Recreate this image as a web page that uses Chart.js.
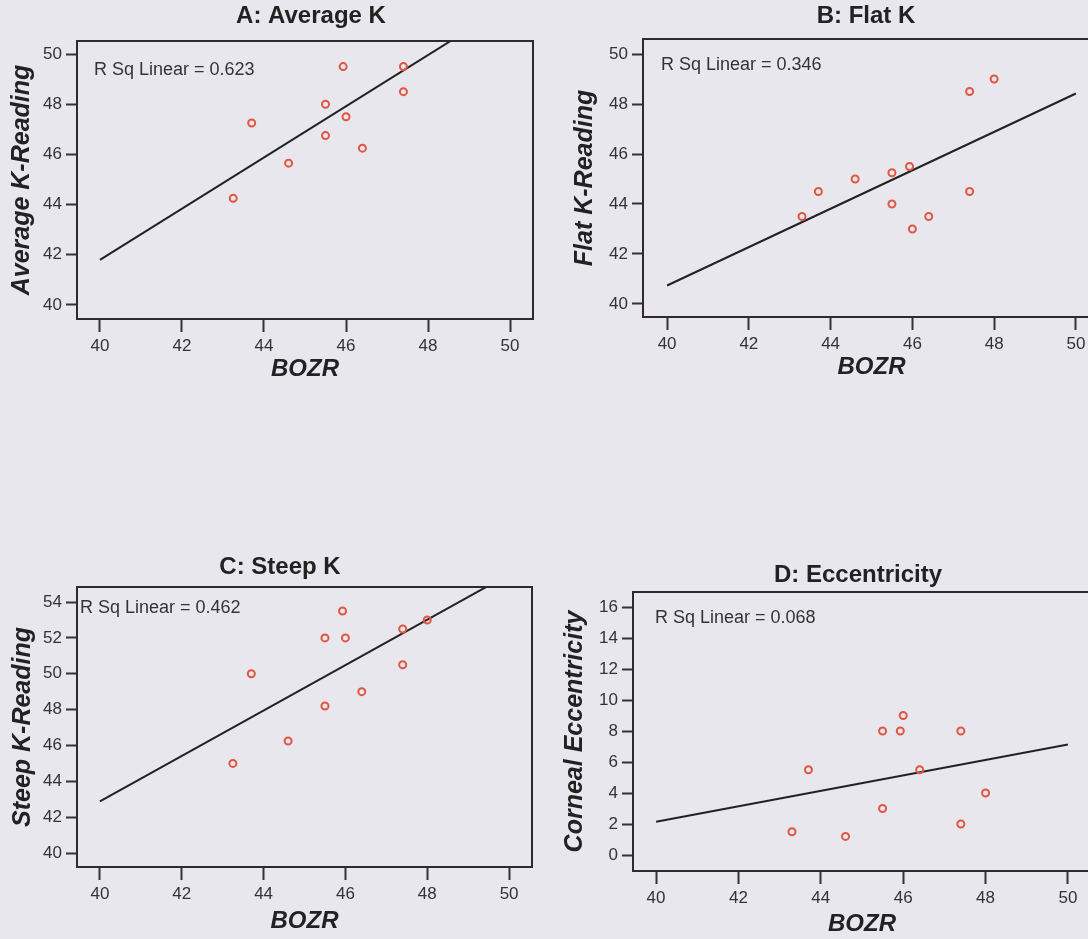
<!DOCTYPE html>
<html>
<head>
<meta charset="utf-8">
<script src="https://cdn.jsdelivr.net/npm/chart.js@4.4.0/dist/chart.umd.min.js"></script>
<style>
  html, body { margin: 0; padding: 0; background: #e8e7ee; width: 1088px; height: 939px; overflow: hidden; position: relative; }
  canvas { position: absolute; }
</style>
</head>
<body>
<canvas id="chartA" width="545" height="390" style="left:0px;top:0px"></canvas>
<canvas id="chartB" width="561" height="390" style="left:545px;top:0px"></canvas>
<canvas id="chartC" width="545" height="394" style="left:0px;top:545px"></canvas>
<canvas id="chartD" width="552" height="394" style="left:545px;top:545px"></canvas>
<script>
var bozrTicks = [40, 42, 44, 46, 48, 50];
var fitX = [40, 50];

// A: Average K
var avgBozr = [43.25, 43.7, 44.6, 45.5, 45.5, 45.93, 46.0, 46.4, 47.4, 47.4];
var avgK    = [44.25, 47.25, 45.65, 48.0, 46.75, 49.5, 47.5, 46.25, 49.5, 48.5];
var avgFit  = [41.8, 52.0];
var avgTicks = [40, 42, 44, 46, 48, 50];

// B: Flat K
var flatBozr = [43.3, 43.7, 44.6, 45.5, 45.5, 45.93, 46.0, 46.4, 47.4, 47.4, 48.0];
var flatK    = [43.5, 44.5, 45.0, 45.25, 44.0, 45.5, 43.0, 43.5, 48.5, 44.5, 49.0];
var flatFit  = [40.74, 48.42];
var flatTicks = [40, 42, 44, 46, 48, 50];

// C: Steep K
var steepBozr = [43.25, 43.7, 44.6, 45.5, 45.5, 45.93, 46.0, 46.4, 47.4, 47.4, 48.0];
var steepK    = [45.0, 50.0, 46.25, 52.0, 48.2, 53.5, 52.0, 49.0, 52.5, 50.5, 53.0];
var steepFit  = [42.88, 55.55];
var steepTicks = [40, 42, 44, 46, 48, 50, 52, 54];

// D: Eccentricity
var eccBozr = [43.3, 43.7, 44.6, 45.5, 45.5, 45.93, 46.0, 46.4, 47.4, 47.4, 48.0];
var eccVal  = [1.5, 5.5, 1.2, 8.0, 3.0, 8.0, 9.0, 5.5, 8.0, 2.0, 4.0];
var eccFit  = [2.15, 7.13];
var eccTicks = [0, 2, 4, 6, 8, 10, 12, 14, 16];

var framePlugin = {
  id: 'frame',
  afterDraw: function(chart, args, o) {
    var a = chart.chartArea, ctx = chart.ctx;
    ctx.save();
    ctx.strokeStyle = '#2e2a2e';
    ctx.lineWidth = 2;
    ctx.strokeRect(a.left, a.top, a.right - a.left, a.bottom - a.top);
    ctx.fillStyle = '#222';
    ctx.font = 'bold 24px "Liberation Sans", Arial, sans-serif';
    ctx.textAlign = 'center';
    ctx.textBaseline = 'middle';
    ctx.fillText(o.title, o.titleX, o.titleY);
    ctx.fillStyle = '#333';
    ctx.font = '18px "Liberation Sans", Arial, sans-serif';
    ctx.textAlign = 'left';
    ctx.fillText(o.rsq, a.left + o.rsqDx, a.top + o.rsqDy);
    ctx.restore();
  }
};

function toPoints(xs, ys) {
  var pts = [];
  for (var i = 0; i < xs.length; i++) {
    pts.push({x: xs[i], y: ys[i]});
  }
  return pts;
}

function makeChart(id, p) {
  var ctx = document.getElementById(id);
  return new Chart(ctx, {
    type: 'scatter',
    data: {
      datasets: [
        {
          data: toPoints(p.xs, p.ys),
          pointRadius: 3.5,
          pointBorderWidth: 2,
          pointBorderColor: '#e2553f',
          pointBackgroundColor: 'rgba(0,0,0,0)',
          showLine: false
        },
        {
          type: 'line',
          data: toPoints(fitX, p.fit),
          borderColor: '#222',
          borderWidth: 2,
          pointRadius: 0,
          fill: false,
          clip: 0
        }
      ]
    },
    options: {
      responsive: false,
      devicePixelRatio: 1,
      animation: false,
      layout: { padding: p.pad },
      plugins: {
        legend: { display: false },
        tooltip: { enabled: false },
        frame: { title: p.title, titleX: p.titleX, titleY: p.titleY, rsq: p.rsq, rsqDx: p.rsqDx, rsqDy: p.rsqDy }
      },
      scales: {
        x: {
          type: 'linear',
          min: p.xMin, max: p.xMax,
          afterBuildTicks: function(s) { s.ticks = bozrTicks.map(function(v) { return {value: v}; }); },
          afterFit: function(s) { s.height = p.xH; s.paddingLeft = 0; s.paddingRight = 0; },
          grid: { display: true, drawOnChartArea: false, drawTicks: true, tickLength: 13, tickWidth: 2, tickColor: '#333' },
          border: { display: false },
          ticks: { color: '#333', padding: 4, maxRotation: 0, font: { size: 17, family: '"Liberation Sans", Arial, sans-serif' } },
          title: { display: true, text: 'BOZR', color: '#222', padding: { top: 0, bottom: p.xTitlePad },
                   font: { size: 24, weight: 'bold', style: 'italic', family: '"Liberation Sans", Arial, sans-serif' } }
        },
        y: {
          type: 'linear',
          min: p.yMin, max: p.yMax,
          afterBuildTicks: function(s) { s.ticks = p.yTicks.map(function(v) { return {value: v}; }); },
          afterFit: function(s) { s.width = p.yW; s.paddingTop = 0; s.paddingBottom = 0; },
          grid: { display: true, drawOnChartArea: false, drawTicks: true, tickLength: 11, tickWidth: 2, tickColor: '#333' },
          border: { display: false },
          ticks: { color: '#333', padding: 4, font: { size: 17, family: '"Liberation Sans", Arial, sans-serif' } },
          title: { display: true, text: p.yTitle, color: '#222', padding: { top: p.yTitlePad, bottom: 0 },
                   font: { size: 25, weight: 'bold', style: 'italic', family: '"Liberation Sans", Arial, sans-serif' } }
        }
      }
    },
    plugins: [framePlugin]
  });
}

makeChart('chartA', {
  xs: avgBozr, ys: avgK, fit: avgFit, yTicks: avgTicks,
  xMin: 39.44, xMax: 50.56, yMin: 39.44, yMax: 50.52,
  pad: { top: 41, right: 12, bottom: 0, left: 0 }, yW: 77, xH: 71,
  yTitle: 'Average K-Reading', yTitlePad: 7, xTitlePad: 6,
  title: 'A: Average K', titleX: 311, titleY: 16,
  rsq: 'R Sq Linear = 0.623', rsqDx: 17, rsqDy: 29
});

makeChart('chartB', {
  xs: flatBozr, ys: flatK, fit: flatFit, yTicks: flatTicks,
  xMin: 39.41, xMax: 50.59, yMin: 39.48, yMax: 50.6,
  pad: { top: 39, right: 0, bottom: 0, left: 0 }, yW: 98, xH: 73,
  yTitle: 'Flat K-Reading', yTitlePad: 25, xTitlePad: 8,
  title: 'B: Flat K', titleX: 321, titleY: 16,
  rsq: 'R Sq Linear = 0.346', rsqDx: 18, rsqDy: 26
});

makeChart('chartC', {
  xs: steepBozr, ys: steepK, fit: steepFit, yTicks: steepTicks,
  xMin: 39.44, xMax: 50.56, yMin: 39.22, yMax: 54.84,
  pad: { top: 42, right: 13, bottom: 0, left: 0 }, yW: 77, xH: 72,
  yTitle: 'Steep K-Reading', yTitlePad: 8, xTitlePad: 3,
  title: 'C: Steep K', titleX: 280, titleY: 22,
  rsq: 'R Sq Linear = 0.462', rsqDx: 3, rsqDy: 21
});

makeChart('chartD', {
  xs: eccBozr, ys: eccVal, fit: eccFit, yTicks: eccTicks,
  xMin: 39.44, xMax: 50.56, yMin: -1.03, yMax: 16.97,
  pad: { top: 47, right: 0, bottom: 0, left: 0 }, yW: 88, xH: 68,
  yTitle: 'Corneal Eccentricity', yTitlePad: 15, xTitlePad: 0,
  title: 'D: Eccentricity', titleX: 313, titleY: 30,
  rsq: 'R Sq Linear = 0.068', rsqDx: 22, rsqDy: 26
});
</script>
</body>
</html>
